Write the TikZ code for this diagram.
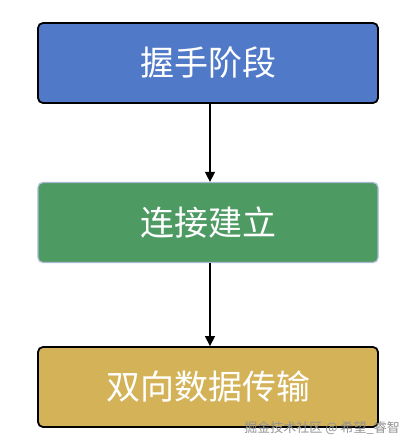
\documentclass[tikz,border=0pt]{standalone}
\usepackage{fontspec}
\newfontfamily\cjk{Noto Sans CJK SC}
\usetikzlibrary{arrows.meta}
\definecolor{boxblue}{HTML}{5079C8}
\definecolor{boxgreen}{HTML}{4E9A63}
\definecolor{boxgold}{HTML}{D4B258}
\definecolor{paleedge}{HTML}{A8B8D4}
\tikzset{
  stagebox/.style={rounded corners=5pt, minimum width=340pt, minimum height=80pt,
    text=white, font=\cjk\fontsize{34}{40}\selectfont, inner sep=0pt},
  flowarrow/.style={-{Triangle[length=10pt,width=10pt]}, line width=1.3pt, black}
}
\begin{document}
\begin{tikzpicture}[x=1pt,y=-1pt]
\useasboundingbox[fill=white] (0,0) rectangle (413,447);
\node[stagebox, fill=boxblue, draw=black, line width=1.8pt] (a) at (208,63) {握手阶段};
\node[stagebox, fill=boxgreen, draw=paleedge, line width=1.2pt] (b) at (208,222.5) {连接建立};
\node[stagebox, fill=boxgold, draw=black, line width=1.8pt] (c) at (208,387) {双向数据传输};
\draw[flowarrow] (a.south -| 210,0) -- (b.north -| 210,0);
\draw[flowarrow] (b.south -| 210,0) -- (c.north -| 210,0);
\node[font=\cjk\fontsize{13}{15}\selectfont, text=gray!85, anchor=east, inner sep=0pt] (w) at (400,428) {掘金技术社区 @ 希望\_睿智};
\end{tikzpicture}
\end{document}
